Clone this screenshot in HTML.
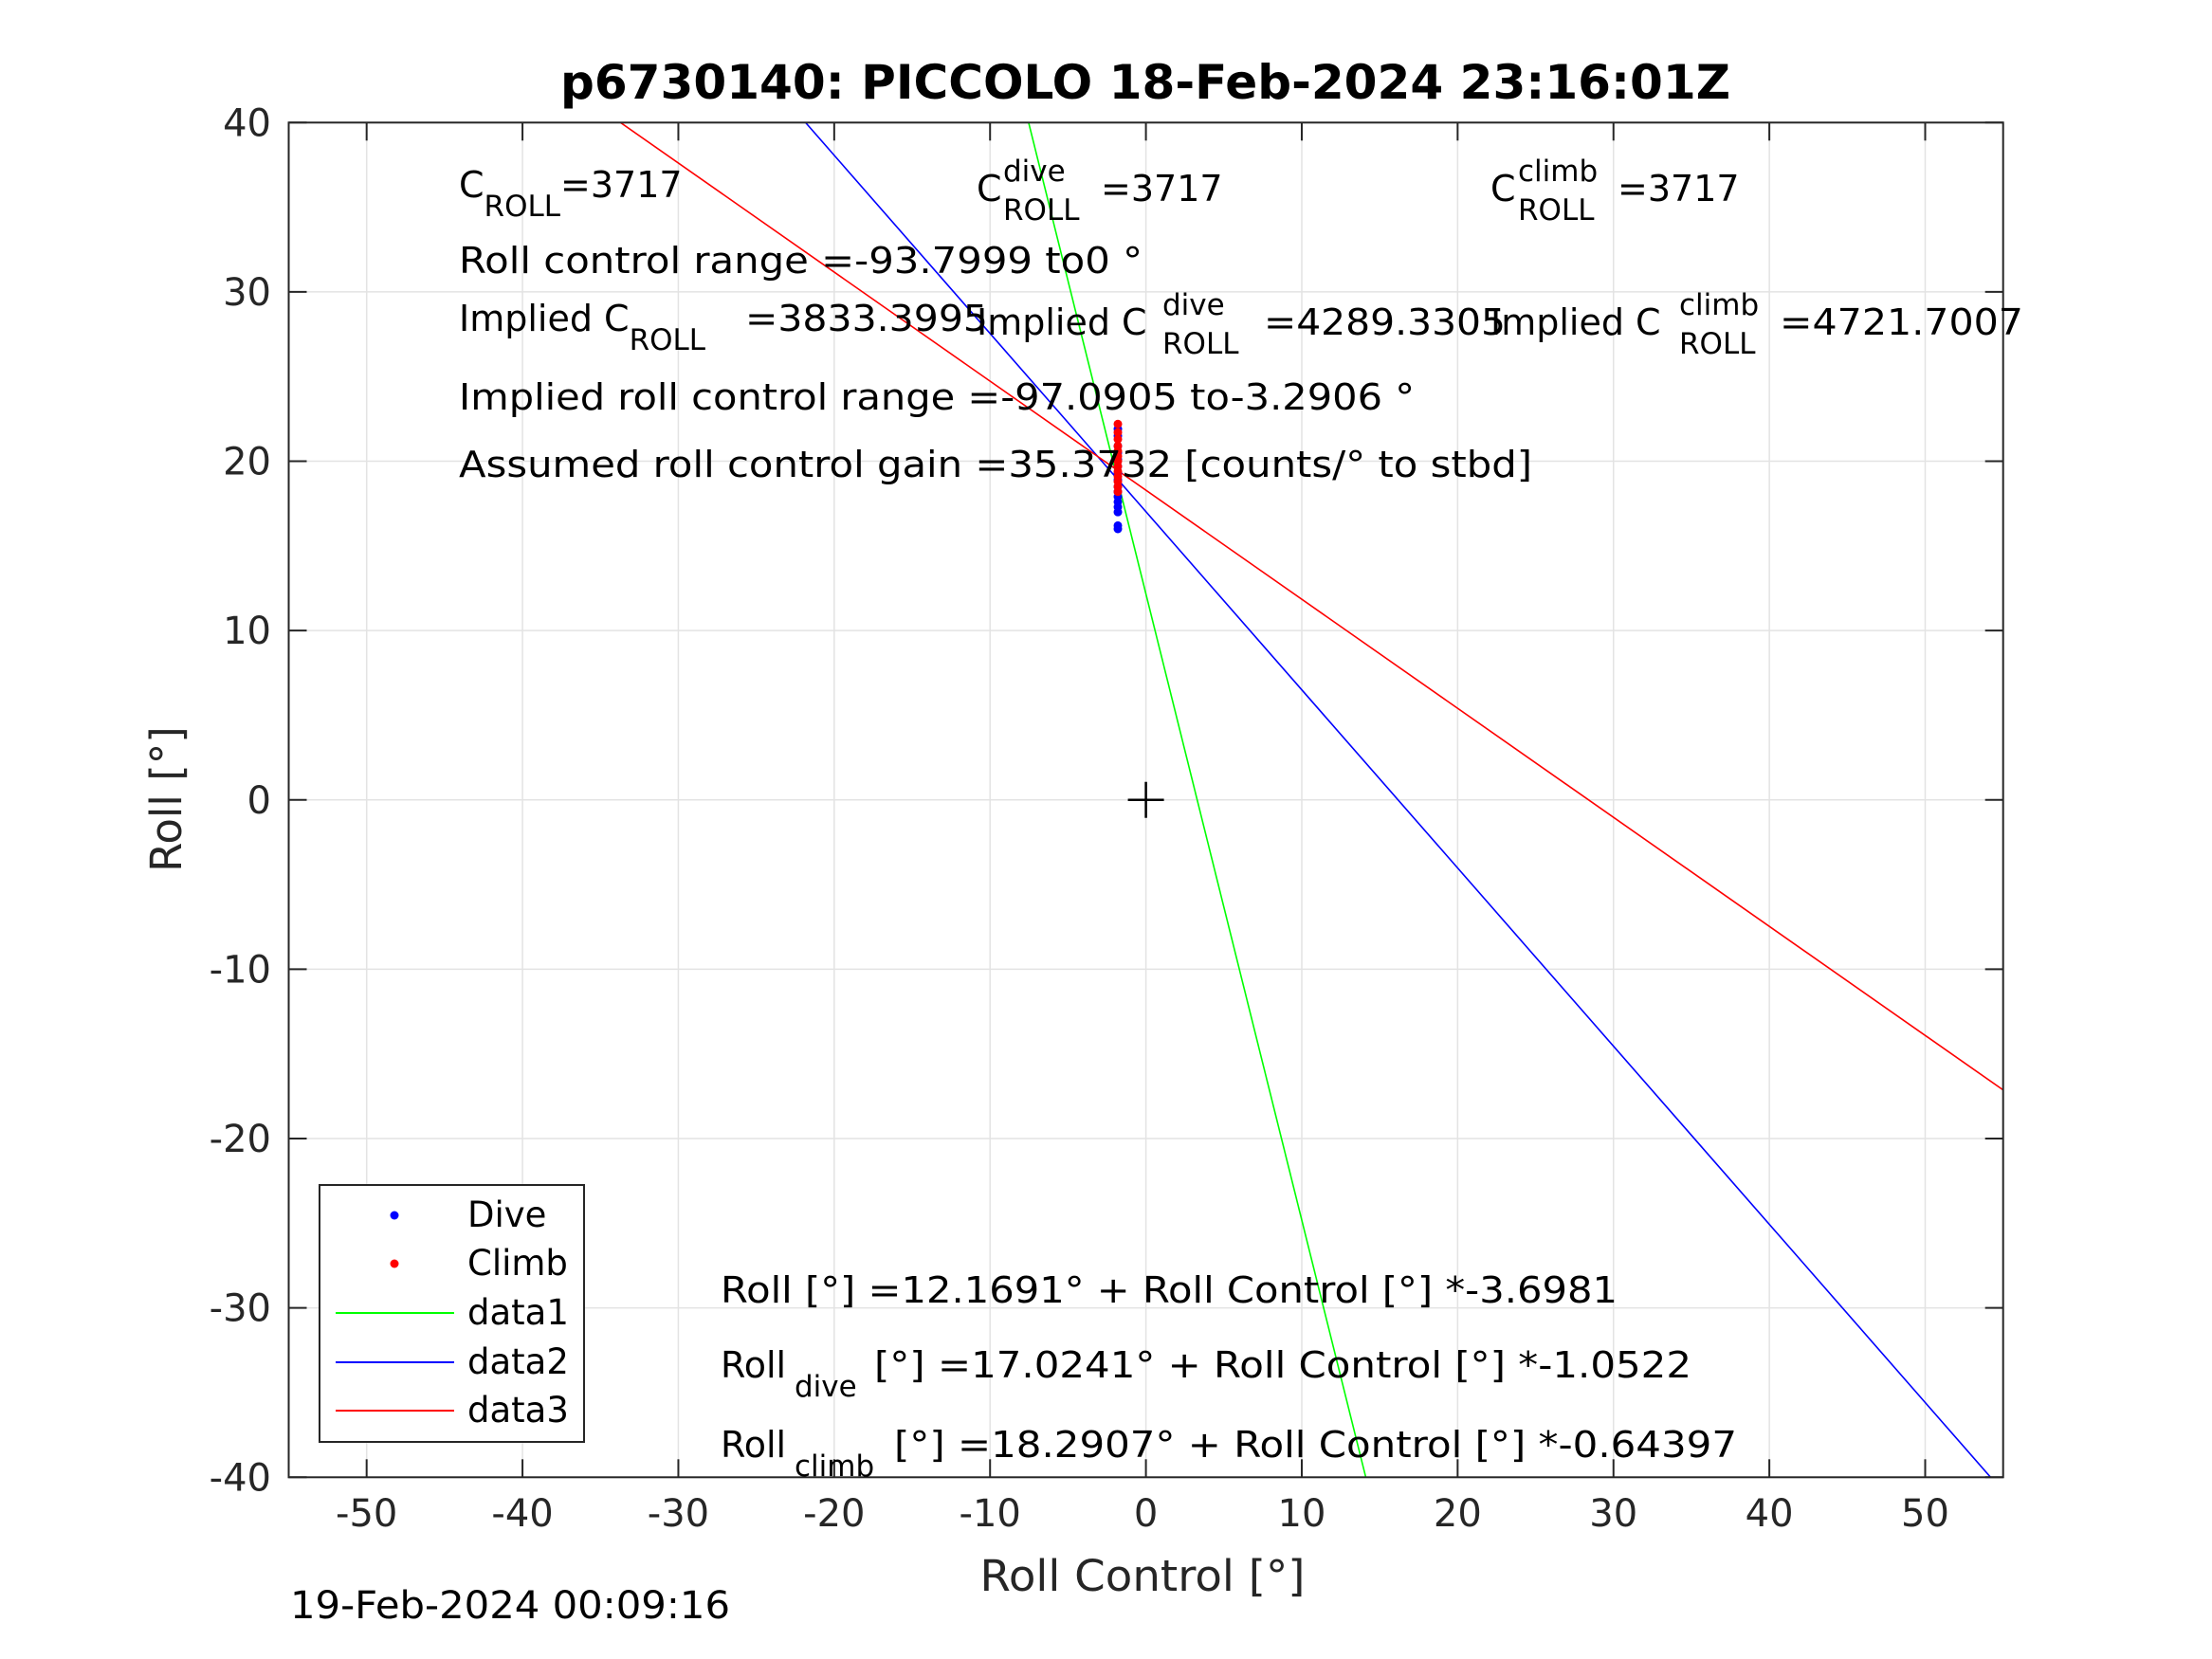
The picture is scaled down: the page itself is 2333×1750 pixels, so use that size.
<!DOCTYPE html>
<html><head><meta charset="utf-8"><style>
html,body{margin:0;padding:0;background:#fff;overflow:hidden;width:2333px;height:1750px}
svg{display:block;font-family:"DejaVu Sans","Liberation Sans",sans-serif}
</style></head><body>
<svg id="chart" width="2333" height="1750" viewBox="0 0 2333 1750" xmlns="http://www.w3.org/2000/svg">
<rect width="2333" height="1750" fill="#fff"/>
<defs><clipPath id="pc"><rect x="304.5" y="129.3" width="1808.2" height="1429"/></clipPath></defs>
<g id="grid"></g>
<g id="series" clip-path="url(#pc)"></g>
<g id="axes"></g>
<text x="1208" y="104" text-anchor="middle" font-weight="bold" font-size="50" textLength="1234" lengthAdjust="spacingAndGlyphs">p6730140: PICCOLO 18-Feb-2024 23:16:01Z</text>
<g font-size="38" fill="#000">
<text x="484" y="208">C<tspan font-size="31" dy="20">ROLL</tspan><tspan dy="-20">=3717</tspan></text>
<text x="1030" y="212">C</text>
<text x="1058" y="191" font-size="31">dive</text>
<text x="1058" y="232" font-size="31">ROLL</text>
<text x="1161" y="212">=3717</text>
<text x="1572" y="212">C</text>
<text x="1601" y="191" font-size="31">climb</text>
<text x="1601" y="232" font-size="31">ROLL</text>
<text x="1706" y="212">=3717</text>
<text x="484" y="288" textLength="721" lengthAdjust="spacingAndGlyphs">Roll control range =-93.7999 to0 °</text>
<text x="484" y="349">Implied C<tspan font-size="31" dy="20">ROLL</tspan></text>
<text x="786" y="349" textLength="256" lengthAdjust="spacingAndGlyphs">=3833.3995</text>
<text x="1030" y="353">Implied C</text>
<text x="1226" y="332" font-size="31">dive</text>
<text x="1226" y="373" font-size="31">ROLL</text>
<text x="1333" y="353" textLength="255" lengthAdjust="spacingAndGlyphs">=4289.3305</text>
<text x="1572" y="353">Implied C</text>
<text x="1771" y="332" font-size="31">climb</text>
<text x="1771" y="373" font-size="31">ROLL</text>
<text x="1877" y="353" textLength="257" lengthAdjust="spacingAndGlyphs">=4721.7007</text>
<text x="484" y="432" textLength="1008" lengthAdjust="spacingAndGlyphs">Implied roll control range =-97.0905 to-3.2906 °</text>
<text x="484" y="503" textLength="1132" lengthAdjust="spacingAndGlyphs">Assumed roll control gain =35.3732 [counts/° to stbd]</text>
<text x="760" y="1374" textLength="946" lengthAdjust="spacingAndGlyphs">Roll [°] =12.1691° + Roll Control [°] *-3.6981</text>
<text x="760" y="1453">Roll</text>
<text x="838" y="1473" font-size="31">dive</text>
<text x="922" y="1453" textLength="862" lengthAdjust="spacingAndGlyphs">[°] =17.0241° + Roll Control [°] *-1.0522</text>
<text x="760" y="1537">Roll</text>
<text x="838" y="1557" font-size="31">climb</text>
<text x="943" y="1537" textLength="889" lengthAdjust="spacingAndGlyphs">[°] =18.2907° + Roll Control [°] *-0.64397</text>
</g>
<text x="1205" y="1678" text-anchor="middle" font-size="45" fill="#262626" textLength="343" lengthAdjust="spacingAndGlyphs">Roll Control [°]</text>
<text transform="translate(191,843) rotate(-90)" text-anchor="middle" font-size="45" fill="#262626">Roll [°]</text>
<text x="306" y="1707" font-size="40" textLength="464" lengthAdjust="spacingAndGlyphs">19-Feb-2024 00:09:16</text>
<g id="legend" font-size="37">
<rect x="337" y="1250" width="279" height="271" fill="#fff" stroke="#262626" stroke-width="2"/>
<circle cx="416" cy="1282" r="4.5" fill="#00f"/>
<text x="493" y="1294">Dive</text>
<circle cx="416" cy="1333" r="4.5" fill="#f00"/>
<text x="493" y="1345">Climb</text>
<line x1="354" y1="1385" x2="479" y2="1385" stroke="#0f0" stroke-width="2"/>
<text x="493" y="1397">data1</text>
<line x1="354" y1="1437" x2="479" y2="1437" stroke="#00f" stroke-width="2"/>
<text x="493" y="1449">data2</text>
<line x1="354" y1="1488" x2="479" y2="1488" stroke="#f00" stroke-width="2"/>
<text x="493" y="1500">data3</text>
</g>
</svg>
<script>
const xTicks = [-50,-40,-30,-20,-10,0,10,20,30,40,50];
const yTicks = [-40,-30,-20,-10,0,10,20,30,40];
const lineNames = ['data1','data2','data3'];
const lineIntercepts = [12.1691,17.0241,18.2907];
const lineSlopes = [-3.6981,-1.0522,-0.64397];
const lineColors = ['#0f0','#00f','#f00'];
const diveX = [-1.8,-1.8,-1.8,-1.8,-1.8,-1.8,-1.8,-1.8,-1.8,-1.8,-1.8,-1.8,-1.8,-1.8,-1.8,-1.8];
const diveY = [16.0,16.2,17.0,17.3,17.6,17.9,18.2,18.5,18.9,19.3,19.7,20.1,20.5,20.9,21.5,21.9];
const climbX = [-1.8,-1.8,-1.8,-1.8,-1.8,-1.8,-1.8,-1.8,-1.8,-1.8,-1.8,-1.8,-1.8];
const climbY = [18.2,18.5,18.8,19.1,19.4,19.7,20.0,20.3,20.6,20.9,21.3,21.7,22.2];
const L=304.5,R=2112.7,T=129.3,B=1558.3,X0=-55,X1=55,Y0=-40,Y1=40;
function sx(v){return L+(v-X0)/(X1-X0)*(R-L);}
function sy(v){return B-(v-Y0)/(Y1-Y0)*(B-T);}
const NS='http://www.w3.org/2000/svg';
function mk(tag,attrs,parent){const e=document.createElementNS(NS,tag);for(const k in attrs)e.setAttribute(k,attrs[k]);parent.appendChild(e);return e;}
const grid=document.getElementById('grid'),axes=document.getElementById('axes'),ser=document.getElementById('series');
xTicks.forEach(v=>{const x=sx(v);
 const g=mk('line',{x1:x,y1:T,x2:x,y2:B,stroke:'#e3e3e3','stroke-width':1.5},grid);
 
 
 [[B,B-19],[T,T+19]].forEach(p=>{const t=mk('line',{x1:x,y1:p[0],x2:x,y2:p[1],stroke:'#262626','stroke-width':2},axes);
  
  });
 const lb=mk('text',{x:x,y:1610,'text-anchor':'middle','font-size':40,fill:'#262626'},axes);lb.textContent=String(v);
 
 
});
yTicks.forEach(v=>{const y=sy(v);
 const g=mk('line',{x1:L,y1:y,x2:R,y2:y,stroke:'#e3e3e3','stroke-width':1.5},grid);
 
 
 [[L,L+19],[R,R-19]].forEach(p=>{const t=mk('line',{x1:p[0],y1:y,x2:p[1],y2:y,stroke:'#262626','stroke-width':2},axes);
  
  });
 const lb=mk('text',{x:286,y:y+14,'text-anchor':'end','font-size':40,fill:'#262626'},axes);lb.textContent=String(v);
 
 
});
const box=mk('rect',{x:L,y:T,width:R-L,height:B-T,fill:'none',stroke:'#262626','stroke-width':2},axes);


lineNames.forEach((n,i)=>{
 const ln=mk('line',{x1:sx(X0),y1:sy(lineIntercepts[i]+lineSlopes[i]*X0),x2:sx(X1),y2:sy(lineIntercepts[i]+lineSlopes[i]*X1),stroke:lineColors[i],'stroke-width':1.6},ser);
 
 
});
diveX.forEach((x,i)=>{const c=mk('circle',{cx:sx(x),cy:sy(diveY[i]),r:4.5,fill:'#00f'},ser);
 
 });
climbX.forEach((x,i)=>{const c=mk('circle',{cx:sx(x),cy:sy(climbY[i]),r:4.5,fill:'#f00'},ser);
 
 });
const ox=sx(0),oy=sy(0);
const p=mk('path',{d:`M${ox-19},${oy}H${ox+19}M${ox},${oy-19}V${oy+19}`,stroke:'#000','stroke-width':2.5,fill:'none'},ser);


</script>
</body></html>
